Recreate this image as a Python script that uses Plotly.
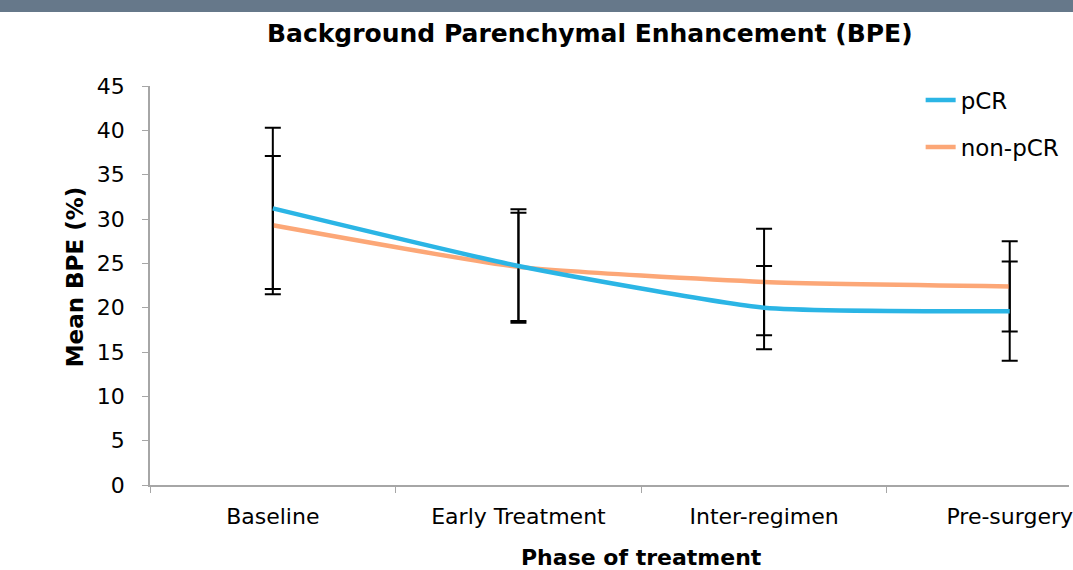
import plotly.graph_objects as go

categories = ["Baseline", "Early Treatment", "Inter-regimen", "Pre-surgery"]
pcr_mean = [31.2, 24.7, 20.0, 19.6]
pcr_err = [9.1, 6.4, 4.7, 5.6]
non_mean = [29.3, 24.6, 22.9, 22.4]
non_err = [7.8, 6.1, 6.0, 5.1]
y_ticks = [0, 5, 10, 15, 20, 25, 30, 35, 40, 45]

FONT = "DejaVu Sans, Liberation Sans, Arial, sans-serif"
BLUE = "#2BB5E5"
ORANGE = "#FCA777"

L, T, B = 150, 86, 85
W, H = 1073, 570
PW = W - L
PH = H - T - B


def px(fx):
    return (fx - L) / PW


def py(fy):
    return (H - B - fy) / PH


fig = go.Figure()
fig.add_trace(go.Scatter(
    x=categories, y=non_mean, name="non-pCR", mode="lines",
    line=dict(color=ORANGE, width=4.5, shape="spline", smoothing=0.5),
    error_y=dict(type="data", array=non_err, visible=True, color="black", thickness=2, width=8),
    legend="legend2",
))
fig.add_trace(go.Scatter(
    x=categories, y=pcr_mean, name="pCR", mode="lines",
    line=dict(color=BLUE, width=4.5, shape="spline", smoothing=0.5),
    error_y=dict(type="data", array=pcr_err, visible=True, color="black", thickness=2, width=8),
    legend="legend",
))

fig.update_layout(
    width=W, height=H,
    margin=dict(l=L, r=0, t=T, b=B),
    paper_bgcolor="white", plot_bgcolor="white",
    font=dict(family=FONT, size=22, color="black"),
    showlegend=True,
    legend=dict(x=px(924), y=py(100), xanchor="left", yanchor="middle",
                bgcolor="rgba(0,0,0,0)", font=dict(size=23), itemwidth=30),
    legend2=dict(x=px(924), y=py(147), xanchor="left", yanchor="middle",
                 bgcolor="rgba(0,0,0,0)", font=dict(size=23), itemwidth=30),
    xaxis=dict(
        type="category", range=[-0.5, -0.5 + PW / 246.7],
        showline=True, linecolor="#A6A6A6", linewidth=1.5,
        ticks="outside", tickson="boundaries", ticklen=6, tickcolor="#A6A6A6",
        showgrid=False, zeroline=False,
        tickfont=dict(size=22), ticklabelstandoff=11,
    ),
    yaxis=dict(
        range=[0, 45], tickvals=y_ticks,
        showline=True, linecolor="#A6A6A6", linewidth=1.5,
        ticks="outside", ticklen=6, tickcolor="#A6A6A6",
        showgrid=False, zeroline=False,
        tickfont=dict(size=22), ticklabelstandoff=13,
    ),
    shapes=[dict(type="rect", xref="paper", yref="paper",
                 x0=px(-20), x1=px(1090), y0=py(12), y1=py(-30),
                 fillcolor="#66788A", line=dict(width=0), layer="above")],
    annotations=[
        dict(text="<b>Background Parenchymal Enhancement (BPE)</b>",
             xref="paper", yref="paper", x=px(592), y=py(33),
             xanchor="center", yanchor="middle", showarrow=False,
             font=dict(size=25, family=FONT)),
        dict(text="<b>Phase of treatment</b>",
             xref="x", yref="paper", x=1.5, y=py(557),
             xanchor="center", yanchor="middle", showarrow=False,
             font=dict(size=22, family=FONT)),
        dict(text="<b>Mean BPE (%)</b>", textangle=-90,
             xref="paper", yref="paper", x=px(75), y=py(277),
             xanchor="center", yanchor="middle", showarrow=False,
             font=dict(size=23, family=FONT)),
    ],
)

fig.write_html("out.html", config={"displayModeBar": False},
               post_script="document.body.style.margin='0';")
